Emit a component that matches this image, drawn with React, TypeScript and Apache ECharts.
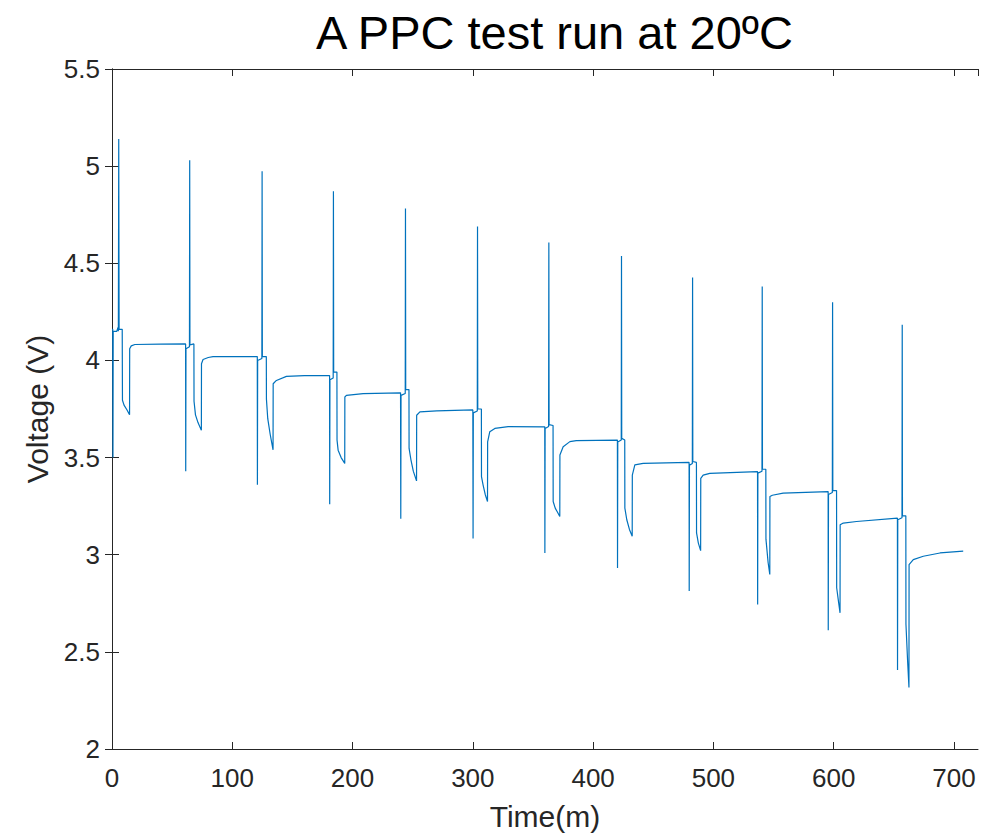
import React, { useEffect, useRef } from "react";
import * as echarts from "echarts";

const TITLE = "A PPC test run at 20ºC";
const X_NAME = "Time(m)";
const Y_NAME = "Voltage (V)";
const X_MIN = 0;
const X_MAX = 720;
const X_STEP = 100;
const Y_MIN = 2;
const Y_MAX = 5.5;
const Y_STEP = 0.5;

// [time (min), voltage (V)], one array per pulse cycle
const cycle1 = [
  [0, 4.16], [0.6, 4.16], [0.8, 3.5], [1.0, 4.15], [4.0, 4.15], [5.0, 4.17], [5.3, 4.15],
  [5.6, 5.14], [5.9, 4.16], [8.5, 4.16], [8.7, 3.795], [10.0, 3.77], [12.5, 3.745],
  [14.6, 3.72], [14.7, 4.06], [16.0, 4.075], [19.0, 4.082], [40.0, 4.084], [61.2, 4.085],
];
const cycle2 = [
  [61.3, 3.43], [61.5, 4.06], [64.4, 4.07], [64.6, 5.03], [64.8, 4.08], [68.1, 4.085],
  [68.2, 3.79], [69.4, 3.72], [71.5, 3.68], [74.3, 3.64], [74.4, 3.983], [75.7, 4.005],
  [80.0, 4.015], [84.0, 4.02], [120.8, 4.02],
];
const cycle3 = [
  [120.9, 3.36], [121.1, 4.0], [124.6, 4.01], [124.8, 4.974], [125.0, 4.02], [128.3, 4.02],
  [128.4, 3.8], [129.5, 3.7], [131.5, 3.62], [133.9, 3.54], [134.0, 3.88], [136.7, 3.897],
  [145.0, 3.918], [160.0, 3.922], [180.9, 3.922],
];
const cycle4 = [
  [181.0, 3.26], [181.2, 3.9], [183.9, 3.91], [184.1, 4.871], [184.3, 3.94], [187.0, 3.94],
  [187.1, 3.59], [188.0, 3.538], [190.5, 3.5], [193.5, 3.47], [193.6, 3.812], [194.9, 3.82],
  [208.8, 3.829], [239.9, 3.833],
];
const cycle5 = [
  [240.1, 3.185], [240.3, 3.82], [243.8, 3.83], [244.0, 4.782], [244.2, 3.85], [246.9, 3.85],
  [247.0, 3.547], [248.5, 3.49], [250.5, 3.43], [253.2, 3.38], [253.3, 3.718], [256.0, 3.735],
  [270.0, 3.74], [300.0, 3.745],
];
const cycle6 = [
  [300.2, 3.083], [300.4, 3.73], [303.7, 3.74], [303.9, 4.689], [304.1, 3.75], [307.1, 3.75],
  [307.2, 3.402], [308.5, 3.36], [310.3, 3.31], [312.2, 3.274], [312.3, 3.581], [314.1, 3.633],
  [318.3, 3.65], [329.4, 3.659], [359.8, 3.658],
];
const cycle7 = [
  [359.9, 3.009], [360.1, 3.65], [363.0, 3.66], [363.2, 4.607], [363.4, 3.67], [366.7, 3.665],
  [366.8, 3.274], [368.5, 3.24], [370.3, 3.22], [372.3, 3.197], [372.4, 3.513], [375.1, 3.556],
  [380.7, 3.582], [386.0, 3.587], [420.2, 3.59],
];
const cycle8 = [
  [420.3, 2.932], [420.5, 3.58], [423.4, 3.59], [423.6, 4.538], [423.8, 3.6], [426.3, 3.59],
  [426.4, 3.24], [428.0, 3.18], [430.2, 3.13], [432.5, 3.095], [432.6, 3.41], [434.7, 3.462],
  [441.6, 3.47], [479.8, 3.475],
];
const cycle9 = [
  [479.9, 2.813], [480.1, 3.46], [482.5, 3.47], [482.7, 4.427], [482.9, 3.48], [485.9, 3.475],
  [486.0, 3.112], [487.5, 3.06], [489.4, 3.021], [489.5, 3.393], [491.5, 3.41], [497.0, 3.419],
  [536.7, 3.428],
];
const cycle10 = [
  [536.8, 2.744], [537.0, 3.42], [540.4, 3.43], [540.6, 4.381], [540.8, 3.44], [543.6, 3.44],
  [543.7, 3.08], [545.5, 2.96], [546.9, 2.898], [547.0, 3.3], [549.0, 3.306], [558.0, 3.317],
  [595.4, 3.325],
];
const cycle11 = [
  [595.5, 2.611], [595.7, 3.31], [598.9, 3.32], [599.1, 4.299], [599.3, 3.33], [602.4, 3.33],
  [602.5, 2.83], [604.0, 2.76], [605.3, 2.701], [605.4, 3.154], [608.0, 3.163], [619.0, 3.171],
  [653.0, 3.188],
];
const cycle12 = [
  [653.1, 2.406], [653.3, 3.18], [656.8, 3.19], [657.0, 4.184], [657.2, 3.2], [660.0, 3.2],
  [660.1, 2.642], [661.5, 2.45], [662.6, 2.317], [662.7, 2.949], [666.2, 2.975], [674.5, 2.992],
  [688.4, 3.009], [707.7, 3.018],
];

const cycles = [cycle1, cycle2, cycle3, cycle4, cycle5, cycle6, cycle7, cycle8, cycle9, cycle10, cycle11, cycle12];

const FONT = "'Liberation Sans', Arial, Helvetica, sans-serif";
const INK = "#262626";

export default function App() {
  const ref = useRef<HTMLDivElement>(null);
  useEffect(() => {
    if (!ref.current) return;
    const chart = echarts.init(ref.current, null, { renderer: "svg" });
    const data = cycles.flat();
    const frameAxis = {
      type: "value",
      axisLine: { show: true, lineStyle: { color: INK, width: 1 } },
      axisTick: { show: true, inside: true, length: 7, lineStyle: { color: INK, width: 1 } },
      splitLine: { show: false },
    };
    chart.setOption({
      animation: false,
      backgroundColor: "#ffffff",
      textStyle: { fontFamily: FONT },
      title: {
        text: TITLE,
        left: 311,
        top: 4,
        textStyle: { fontFamily: FONT, fontSize: 47, fontWeight: "normal", color: "#000000" },
      },
      grid: { left: 112, right: 22, top: 69, bottom: 84, containLabel: false },
      xAxis: [
        {
          ...frameAxis,
          position: "bottom",
          min: X_MIN,
          max: X_MAX,
          interval: X_STEP,
          axisLabel: { fontSize: 26, color: INK, margin: 16, showMaxLabel: false, fontFamily: FONT },
          name: X_NAME,
          nameLocation: "middle",
          nameGap: 52,
          nameTextStyle: { fontSize: 30, color: INK, fontFamily: FONT },
        },
        {
          ...frameAxis,
          position: "top",
          min: X_MIN,
          max: X_MAX,
          interval: X_STEP,
          axisLabel: { show: false },
        },
      ],
      yAxis: [
        {
          ...frameAxis,
          position: "left",
          min: Y_MIN,
          max: Y_MAX,
          interval: Y_STEP,
          axisLabel: { fontSize: 26, color: INK, margin: 12, fontFamily: FONT },
          name: Y_NAME,
          nameLocation: "middle",
          nameGap: 56,
          nameTextStyle: { fontSize: 30, color: INK, fontFamily: FONT },
        },
        {
          ...frameAxis,
          position: "right",
          min: Y_MIN,
          max: Y_MAX,
          interval: Y_STEP,
          axisLabel: { show: false },
        },
      ],
      series: [
        {
          type: "line",
          xAxisIndex: 0,
          yAxisIndex: 0,
          data,
          showSymbol: false,
          symbol: "none",
          lineStyle: { color: "#0072BD", width: 1.2 },
          silent: true,
        },
      ],
    });
    return () => chart.dispose();
  }, []);
  return <div ref={ref} style={{ width: 1000, height: 836, position: "absolute", left: 0, top: 0 }} />;
}
